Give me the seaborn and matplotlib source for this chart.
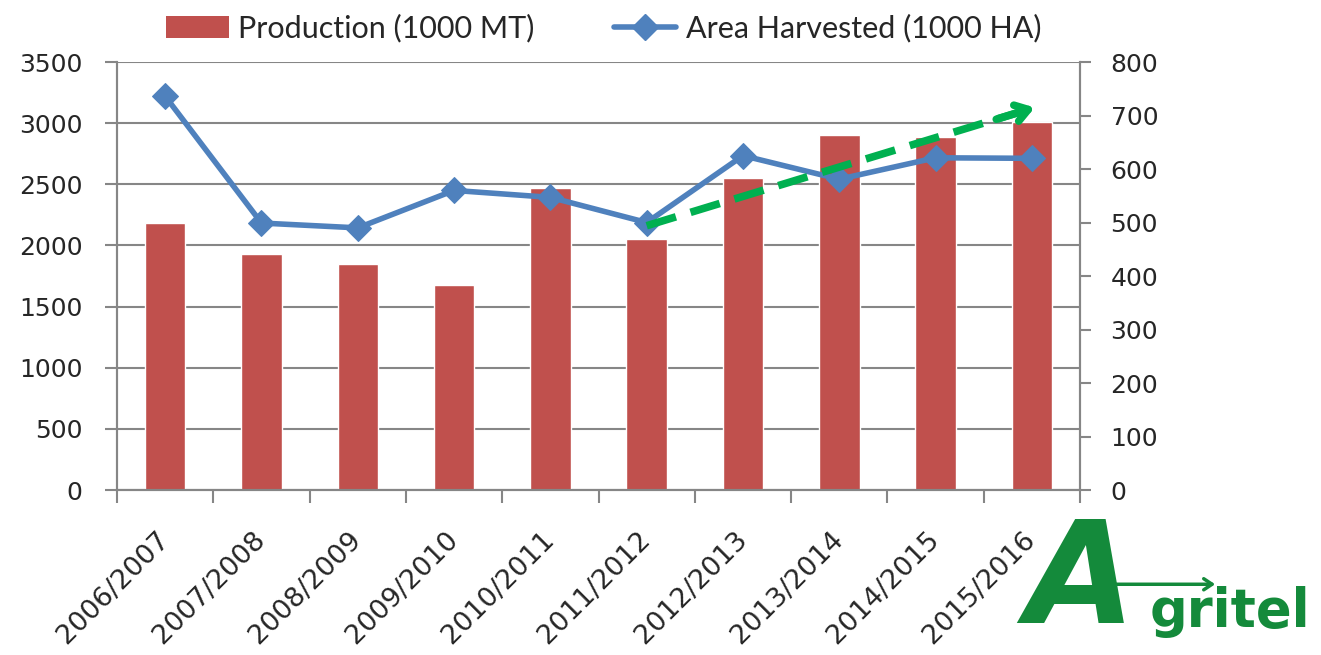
import numpy as np
import matplotlib
matplotlib.use('Agg')
import matplotlib.pyplot as plt
import seaborn as sns
from matplotlib.patches import Patch, FancyArrowPatch
from matplotlib.lines import Line2D

# Data
seasons = ['2006/2007', '2007/2008', '2008/2009', '2009/2010', '2010/2011',
           '2011/2012', '2012/2013', '2013/2014', '2014/2015', '2015/2016']
production = [2180, 1930, 1845, 1680, 2470, 2050, 2550, 2905, 2890, 3010]
area = [736, 499, 490, 560, 547, 500, 625, 581, 621, 620]

# trend arrow (green dashed), in season index / area units
trend_x = [5, 9.03]
trend_y = [494, 715]

red = '#C0504D'
blue = '#4F81BD'
green = '#00B050'
logo_green = '#148A3B'
grid_gray = '#868686'

sns.set_style('white')
plt.rcParams['font.family'] = ['DejaVu Sans']

fig = plt.figure(figsize=(13.21, 6.55), dpi=100)
ax = fig.add_axes([0.0886, 0.2519, 0.729, 0.6534])

sns.barplot(x=seasons, y=production, color=red, saturation=1, width=0.42,
            ax=ax, zorder=2)
ax.set_ylim(0, 3500)
ax.set_yticks(range(0, 3501, 500))
ax.set_xlim(-0.5, len(seasons) - 0.5)
ax.yaxis.grid(True, color=grid_gray, lw=1.5)
ax.set_axisbelow(True)
ax.set_xlabel('')
ax.set_ylabel('')

ax2 = ax.twinx()
sns.lineplot(x=np.arange(len(area)), y=area, ax=ax2, color=blue, lw=4,
             marker='D', markersize=13, markeredgecolor=blue, legend=False)
ax2.set_ylim(0, 800)
ax2.set_yticks(range(0, 801, 100))
ax2.set_xlim(-0.5, len(seasons) - 0.5)

# trend arrow
ax2.plot(trend_x, trend_y, color=green, lw=5.5, ls=(0, (4, 2)),
         solid_capstyle='butt', dash_capstyle='butt')
ax2.annotate('', xy=(trend_x[1], trend_y[1]),
             xytext=(trend_x[1] - 0.4, trend_y[1] - 22),
             arrowprops=dict(arrowstyle='->,head_length=0.9,head_width=0.6',
                             lw=5.5, color=green, shrinkA=0, shrinkB=0))

# x axis ticks: marks at boundaries, labels at centres
ax.set_xticks(range(len(seasons)))
ax.set_xticklabels(seasons, rotation=45, ha='right', va='center',
                   rotation_mode='anchor', fontsize=19.5)
ax.set_xticks(np.arange(-0.5, len(seasons)), minor=True)
ax.tick_params(axis='x', which='major', length=0, pad=33)
ax.tick_params(axis='x', which='minor', length=9, width=1.5, color=grid_gray,
               direction='out', bottom=True)
ax.tick_params(axis='y', length=9, width=1.5, color=grid_gray, pad=16,
               labelsize=18, left=True, direction='out')
ax2.tick_params(axis='y', length=8, width=1.5, color=grid_gray, pad=14,
                labelsize=18, right=True, direction='out')

for a in (ax, ax2):
    for s in a.spines.values():
        s.set_color(grid_gray)
        s.set_linewidth(1.5)
    a.spines['top'].set_visible(False)

# legend
handles = [Patch(facecolor=red, edgecolor='none'),
           Line2D([], [], color=blue, lw=4, marker='D', markersize=13)]
labels = ['Production (1000 MT)', 'Area Harvested (1000 HA)']
fig.legend(handles, labels, loc='center', bbox_to_anchor=(0.457, 0.957),
           ncol=2, frameon=False, prop={'family': 'Lato', 'size': 22},
           handlelength=2.05, handleheight=0.7, handletextpad=0.3,
           columnspacing=2.6)

# Agritel logo
fig.text(0.776, 0.003, 'A', fontsize=102, fontweight='bold', style='italic',
         color=logo_green, va='bottom', ha='left')
fig.text(0.8705, 0.043, 'gritel', fontsize=38, fontweight='bold',
         color=logo_green, va='baseline', ha='left')
fig.add_artist(FancyArrowPatch((0.8266, 0.108), (0.922, 0.108),
                               transform=fig.transFigure,
                               arrowstyle='->,head_length=6,head_width=4',
                               lw=2.5, color=logo_green))

fig.savefig('out.png', dpi=100)
